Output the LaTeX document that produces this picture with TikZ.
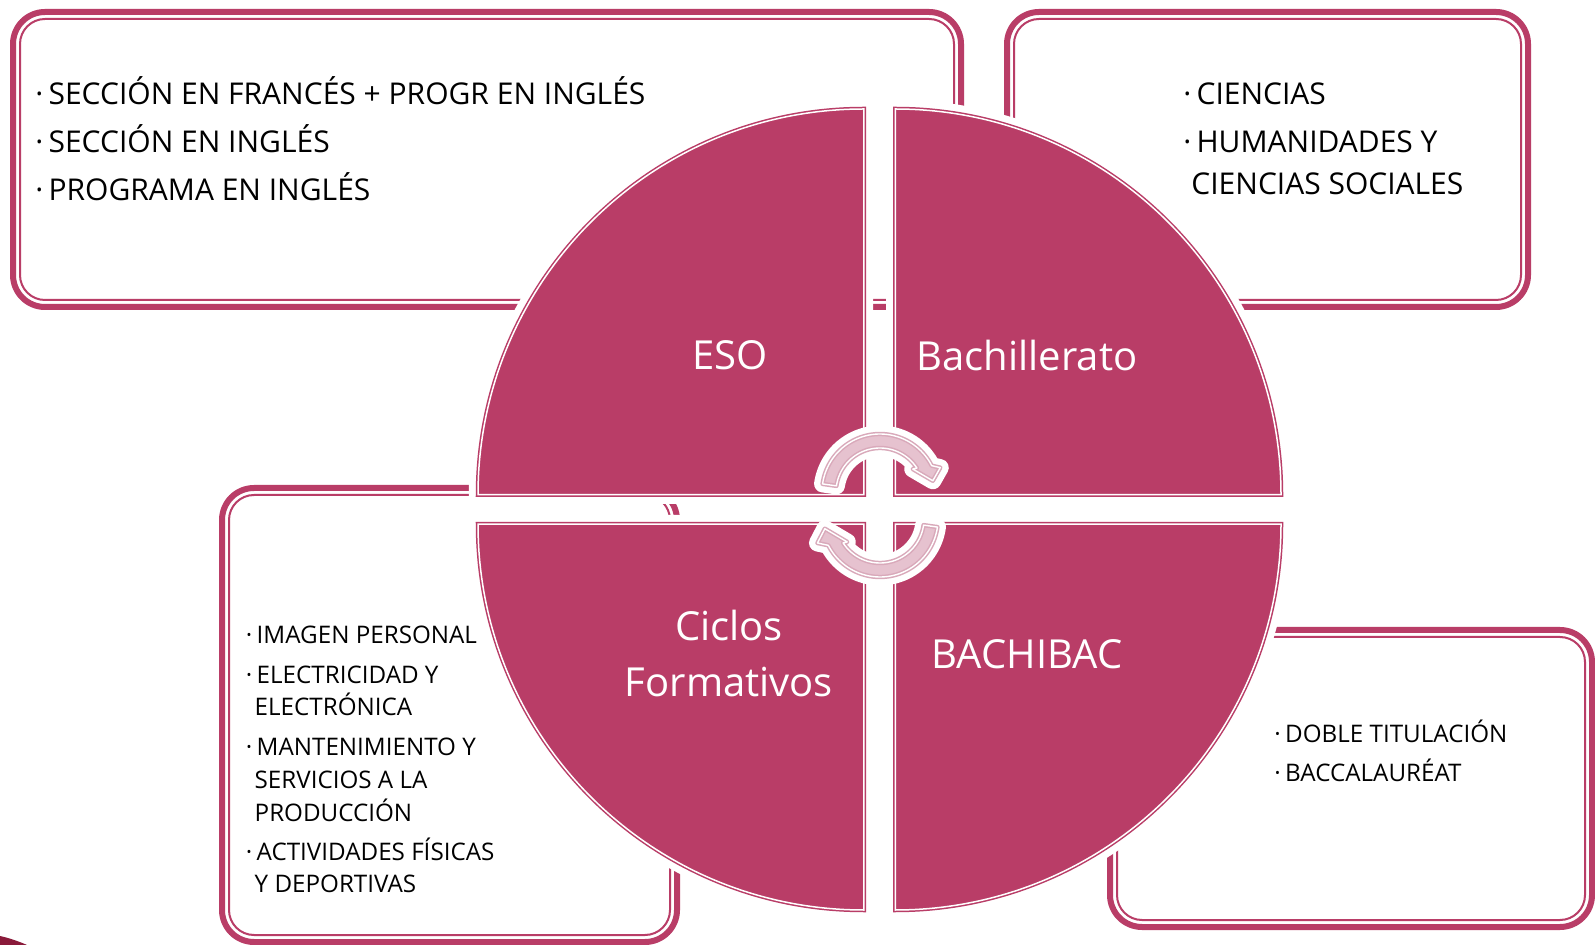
\documentclass[tikz,border=0pt]{standalone}
\usepackage{fontspec}
\setmainfont{Open Sans}
\definecolor{mag}{HTML}{B93D67}
\definecolor{lpink}{HTML}{D9A9BA}
\definecolor{lpfill}{HTML}{E6C2CF}
\definecolor{darkred}{HTML}{8A1A3A}
\newcommand{\bul}{·\hspace{2.6pt}}
\newcommand{\buls}{·\hspace{2.2pt}}
\newcommand{\pinkbox}[4]{%
  \draw[boxband] ({#1+3},{#2+3}) rectangle ({#3-3},{#4-3});
  \draw[boxline] ({#1+10},{#2+10}) rectangle ({#3-10},{#4-10});}
\newcommand{\quads}[1]{%
  \path[#1] (478,494.75) arc[start angle=180,end angle=90,radius=192.875pt] -- (863.75,494.75) -- cycle;
  \path[#1] (895.25,109) arc[start angle=90,end angle=0,radius=192.875pt] -- (895.25,494.75) -- cycle;
  \path[#1] (1281,524.25) arc[start angle=0,end angle=-90,radius=192.875pt] -- (895.25,524.25) -- cycle;
  \path[#1] (863.75,910) arc[start angle=270,end angle=180,radius=192.875pt] -- (863.75,524.25) -- cycle;}
\newcommand{\arrs}[1]{%
  \path[#1] plot[domain=188:333,samples=50] ({880+58*cos(\x)},{492+58*sin(\x)})
    -- ({880+65*cos(338)},{492+65*sin(338)})
    -- ({880+54*cos(348)},{492+54*sin(348)})
    -- ({880+40*cos(325)},{492+40*sin(325)})
    -- plot[domain=327:188,samples=50] ({880+44*cos(\x)},{492+44*sin(\x)}) -- cycle;
  \path[#1] plot[domain=8:153,samples=50] ({880+58*cos(\x)},{519+58*sin(\x)})
    -- ({880+67*cos(159)},{519+67*sin(159)})
    -- ({880+56*cos(170)},{519+56*sin(170)})
    -- ({880+40*cos(145)},{519+40*sin(145)})
    -- plot[domain=147:8,samples=50] ({880+44*cos(\x)},{519+44*sin(\x)}) -- cycle;}
\begin{document}
\begin{tikzpicture}[x=0.5pt,y=-0.5pt,
  boxband/.style={draw=mag, line width=3pt, rounded corners=16pt},
  boxline/.style={draw=mag, line width=1pt, rounded corners=12.5pt},
  quadhalo/.style={draw=white, line width=9.25pt, line join=round},
  quadbody/.style={fill=mag, draw=mag, double=white, double distance=0.75pt, line width=0.75pt},
  arrhalo/.style={draw=white, line width=8.5pt, line join=round},
  arrbody/.style={fill=lpfill, draw=lpink, double=white, double distance=0.7pt, line width=0.75pt, line join=round},
  txtL/.style={anchor=base west, inner sep=0pt, font=\fontsize{15}{18}\selectfont},
  txtS/.style={anchor=base west, inner sep=0pt, font=\fontsize{12.1}{14}\selectfont},
  qlbl/.style={anchor=base, inner sep=0pt, text=white, font=\fontsize{20}{24}\selectfont}]
\useasboundingbox (0,0) rectangle (1595,945);
\fill[white] (0,0) rectangle (1595,945);
\fill[darkred] (0,936) .. controls (9,938) and (18,941) .. (27,945) -- (0,945) -- cycle;
% boxes
\pinkbox{10}{9}{964}{310}
\pinkbox{1004}{9}{1531}{310}
\pinkbox{219}{485}{680}{945}
\pinkbox{1107}{627}{1595}{930}
% box texts
\node[txtL] (tl1) at (35,105) {\bul SECCIÓN EN FRANCÉS + PROGR EN INGLÉS};
\node[txtL] (tl2) at (35,153) {\bul SECCIÓN EN INGLÉS};
\node[txtL] (tl3) at (35,201) {\bul PROGRAMA EN INGLÉS};
\node[txtL] (tr1) at (1183,105) {\bul CIENCIAS};
\node[txtL] (tr2) at (1183,153) {\bul HUMANIDADES Y};
\node[txtL] (tr3) at (1191,194.6) {CIENCIAS SOCIALES};
\node[txtS] (bl1) at (245.5,644) {\buls IMAGEN PERSONAL};
\node[txtS] (bl2) at (245.5,683.3) {\buls ELECTRICIDAD Y};
\node[txtS] (bl3) at (254.3,716) {ELECTRÓNICA};
\node[txtS] (bl4) at (245.5,755.3) {\buls MANTENIMIENTO Y};
\node[txtS] (bl5) at (254.3,788.3) {SERVICIOS A LA};
\node[txtS] (bl6) at (254.3,821) {PRODUCCIÓN};
\node[txtS] (bl7) at (245.5,860) {\buls ACTIVIDADES FÍSICAS};
\node[txtS] (bl8) at (254.3,892.7) {Y DEPORTIVAS};
\node[txtS] (br1) at (1274,742.7) {\buls DOBLE TITULACIÓN};
\node[txtS] (br2) at (1274,781.7) {\buls BACCALAURÉAT};
% quadrants
\quads{quadhalo}
\quads{quadbody}
\node[qlbl] (eso) at (730,370) {ESO};
\node[qlbl] (bach) at (1027,371) {Bachillerato};
\node[qlbl] (cf1) at (729,641) {Ciclos};
\node[qlbl] (cf2) at (729,697) {Formativos};
\node[qlbl] (bbac) at (1027,669) {BACHIBAC};
% cycle arrows
\arrs{arrhalo}
\arrs{arrbody}
\end{tikzpicture}
\end{document}
